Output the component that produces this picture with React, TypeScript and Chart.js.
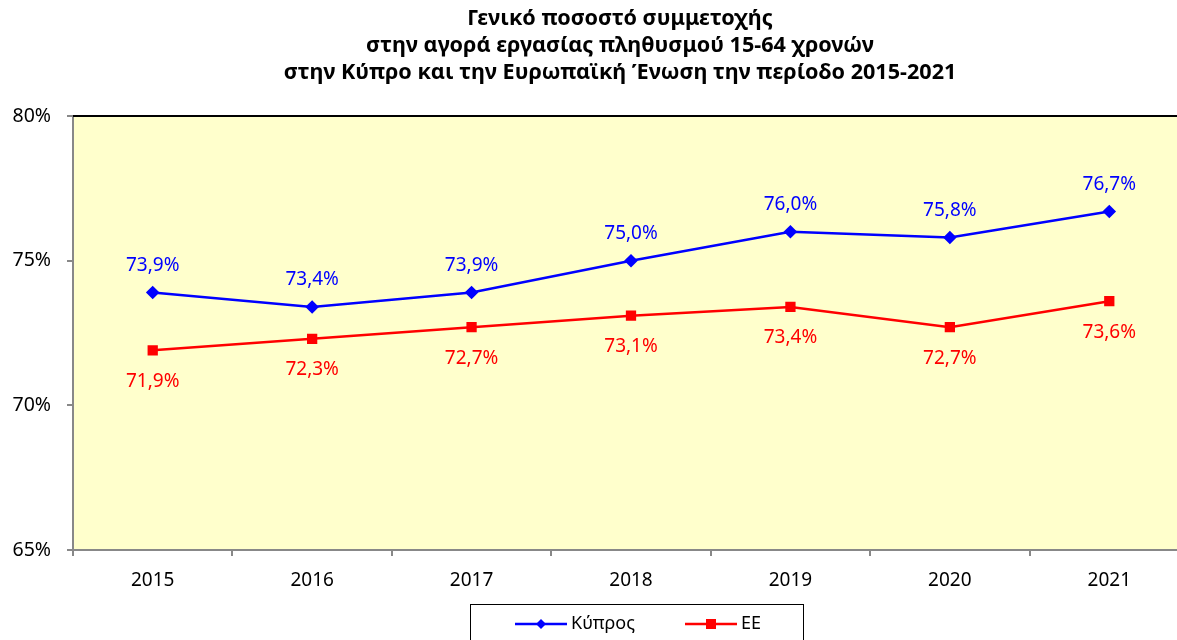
import React, { useEffect, useRef } from "react";
import { Chart, registerables } from "chart.js";

Chart.register(...registerables);

const titleLines = [
  "Γενικό ποσοστό συμμετοχής",
  "στην αγορά εργασίας πληθυσμού 15-64 χρονών",
  "στην Κύπρο και την Ευρωπαϊκή Ένωση την περίοδο 2015-2021",
];
const years = ["2015", "2016", "2017", "2018", "2019", "2020", "2021"];
const cyprus = [73.9, 73.4, 73.9, 75.0, 76.0, 75.8, 76.7];
const eu = [71.9, 72.3, 72.7, 73.1, 73.4, 72.7, 73.6];
const seriesNames = ["Κύπρος", "ΕΕ"];
const yTicks = [65, 70, 75, 80];

const FONT = "'Noto Sans', 'DejaVu Sans', sans-serif";

const fmt = (v: number) => v.toFixed(1).replace(".", ",") + "%";

const decorPlugin = {
  id: "decor",
  beforeDraw(chart: any) {
    const { ctx, chartArea } = chart;
    ctx.save();
    ctx.fillStyle = "#FFFFCC";
    ctx.fillRect(chartArea.left, chartArea.top, chartArea.right - chartArea.left, chartArea.bottom - chartArea.top);
    ctx.restore();
  },
  afterDatasetsDraw(chart: any) {
    const { ctx, chartArea } = chart;
    ctx.save();
    // top border
    ctx.strokeStyle = "#000000";
    ctx.lineWidth = 2;
    ctx.beginPath();
    ctx.moveTo(chartArea.left, chartArea.top);
    ctx.lineTo(chartArea.right, chartArea.top);
    ctx.stroke();
    // data labels
    ctx.font = `19px ${FONT}`;
    ctx.textAlign = "center";
    ctx.textBaseline = "middle";
    chart.data.datasets.forEach((ds: any, i: number) => {
      const meta = chart.getDatasetMeta(i);
      meta.data.forEach((pt: any, j: number) => {
        ctx.fillStyle = ds.borderColor;
        const dy = i === 0 ? -27 : 31;
        ctx.fillText(fmt(ds.data[j]), pt.x, pt.y + dy);
      });
    });
    // title
    ctx.fillStyle = "#000000";
    ctx.font = `bold 21.6px ${FONT}`;
    titleLines.forEach((t, k) => {
      ctx.fillText(t, 620, 19 + k * 27);
    });
    // legend
    const lx = 470, ly = 604, lw = 333, lh = 50;
    ctx.strokeStyle = "#000000";
    ctx.lineWidth = 1;
    ctx.strokeRect(lx + 0.5, ly + 0.5, lw, lh);
    const items = [
      { x: 515, color: "#0000FF", name: seriesNames[0], shape: "diamond" },
      { x: 685, color: "#FF0000", name: seriesNames[1], shape: "square" },
    ];
    const cy = 624;
    items.forEach((it) => {
      ctx.strokeStyle = it.color;
      ctx.fillStyle = it.color;
      ctx.lineWidth = 2.5;
      ctx.beginPath();
      ctx.moveTo(it.x, cy);
      ctx.lineTo(it.x + 52, cy);
      ctx.stroke();
      const mx = it.x + 26;
      ctx.beginPath();
      if (it.shape === "diamond") {
        ctx.moveTo(mx, cy - 5);
        ctx.lineTo(mx + 5, cy);
        ctx.lineTo(mx, cy + 5);
        ctx.lineTo(mx - 5, cy);
        ctx.closePath();
      } else {
        ctx.rect(mx - 5, cy - 5, 10, 10);
      }
      ctx.fill();
      ctx.fillStyle = "#000000";
      ctx.textAlign = "left";
      ctx.font = `18px ${FONT}`;
      ctx.fillText(it.name, it.x + 56, cy);
    });
    ctx.restore();
  },
};

export default function App() {
  const ref = useRef<HTMLCanvasElement | null>(null);
  useEffect(() => {
    if (!ref.current) return;
    const chart = new Chart(ref.current, {
      type: "line",
      data: {
        labels: years,
        datasets: [
          {
            label: seriesNames[0],
            data: cyprus,
            borderColor: "#0000FF",
            backgroundColor: "#0000FF",
            borderWidth: 2.5,
            pointStyle: "rectRot",
            pointRadius: 5,
            pointHoverRadius: 5,
            tension: 0,
          },
          {
            label: seriesNames[1],
            data: eu,
            borderColor: "#FF0000",
            backgroundColor: "#FF0000",
            borderWidth: 2.5,
            pointStyle: "rect",
            pointRadius: 5.5,
            pointHoverRadius: 5.5,
            tension: 0,
          },
        ],
      },
      options: {
        responsive: false,
        animation: false,
        layout: { padding: { top: 116, left: 0, right: 4, bottom: 0 } },
        plugins: {
          legend: { display: false },
          title: { display: false },
          tooltip: { enabled: false },
        },
        scales: {
          x: {
            type: "category",
            offset: true,
            grid: {
              offset: true,
              drawOnChartArea: false,
              drawTicks: true,
              tickLength: 6,
              color: "#888888",
              lineWidth: 2,
            },
            border: { color: "#888888", width: 2 },
            ticks: {
              color: "#000000",
              font: { family: FONT, size: 19 },
              padding: 13,
              maxRotation: 0,
            },
            afterFit: (s: any) => {
              s.height = 90;
            },
          },
          y: {
            min: 65,
            max: 80,
            afterBuildTicks: (s: any) => {
              s.ticks = yTicks.map((v) => ({ value: v }));
            },
            grid: {
              drawOnChartArea: false,
              drawTicks: true,
              tickLength: 6,
              color: "#888888",
              lineWidth: 2,
            },
            border: { color: "#888888", width: 2 },
            ticks: {
              color: "#000000",
              font: { family: FONT, size: 19.5 },
              padding: 16,
              callback: (v: any) => v + "%",
            },
            afterFit: (s: any) => {
              s.width = 73;
            },
          },
        },
      },
      plugins: [decorPlugin],
    });
    return () => chart.destroy();
  }, []);
  return (
    <canvas
      ref={ref}
      width={1197}
      height={640}
      style={{ position: "fixed", left: 0, top: 0, display: "block" }}
    />
  );
}
